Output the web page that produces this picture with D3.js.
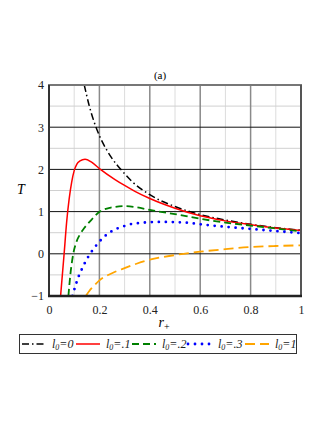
<!DOCTYPE html>
<html>
<head>
<meta charset="utf-8">
<script src="https://cdn.jsdelivr.net/npm/d3@7"></script>
<style>
  body { margin: 0; background: #fff; }
  svg, svg text { font-family: "Liberation Serif", "Times New Roman", "DejaVu Serif", serif; }
</style>
</head>
<body>
<div id="chart"></div>
<script>
// values
const r0 = [0.14, 0.16, 0.18, 0.2, 0.229, 0.25, 0.288, 0.328, 0.4, 0.5, 0.6, 0.7, 0.8, 0.9, 1.0];
const T0 = [4.0, 3.5, 3.11, 2.8, 2.46, 2.26, 1.98, 1.72, 1.4, 1.12, 0.93, 0.8, 0.7, 0.62, 0.56];
const r1 = [0.046, 0.06, 0.07, 0.08, 0.09, 0.1, 0.11, 0.123, 0.143, 0.169, 0.2, 0.262, 0.3, 0.341, 0.4, 0.5, 0.6, 0.7, 0.8, 0.9, 1.0];
const T1 = [-1, 0, 0.75, 1.3, 1.7, 1.97, 2.12, 2.2, 2.24, 2.17, 2.02, 1.76, 1.62, 1.48, 1.31, 1.08, 0.9, 0.78, 0.69, 0.61, 0.55];
const r2 = [0.077, 0.085, 0.097, 0.11, 0.125, 0.14, 0.169, 0.202, 0.242, 0.302, 0.35, 0.4, 0.5, 0.6, 0.7, 0.8, 0.9, 1.0];
const T2 = [-1, -0.48, 0.02, 0.3, 0.48, 0.61, 0.81, 1.0, 1.09, 1.13, 1.1, 1.04, 0.94, 0.83, 0.74, 0.67, 0.6, 0.53];
const r3 = [0.093, 0.107, 0.12, 0.134, 0.147, 0.16, 0.176, 0.196, 0.218, 0.245, 0.271, 0.3, 0.33, 0.36, 0.4, 0.45, 0.5, 0.56, 0.6, 0.7, 0.8, 0.9, 1.0];
const T3 = [-1, -0.72, -0.5, -0.32, -0.16, -0.03, 0.11, 0.26, 0.4, 0.52, 0.6, 0.66, 0.71, 0.73, 0.75, 0.755, 0.75, 0.73, 0.7, 0.64, 0.59, 0.54, 0.49];
const r4 = [0.146, 0.16, 0.18, 0.2, 0.25, 0.3, 0.35, 0.4, 0.5, 0.6, 0.7, 0.8, 0.9, 1.0];
const T4 = [-1, -0.88, -0.75, -0.63, -0.46, -0.34, -0.23, -0.14, -0.03, 0.05, 0.11, 0.16, 0.185, 0.2];
const labels = ['0', '.1', '.2', '.3', '1'];
const xTicks = [0, 0.2, 0.4, 0.6, 0.8, 1];
const yTicks = [-1, 0, 1, 2, 3, 4];

const width = 327, height = 423;
const margin = {top: 85, right: 26, bottom: 127, left: 49};
const serif = '"Liberation Serif", "Times New Roman", serif';

const svg = d3.select('#chart')
    .append('svg')
    .attr('width', width)
    .attr('height', height);

const x = d3.scaleLinear().domain([0, 1]).range([margin.left, width - margin.right]);
const y = d3.scaleLinear().domain([-1, 4]).range([height - margin.bottom, margin.top]);

// grid
const grid = svg.append('g');
grid.selectAll('.vminor')
    .data(d3.range(1, 10, 2).map(d => d / 10))
    .enter().append('line')
    .attr('x1', d => x(d)).attr('x2', d => x(d))
    .attr('y1', y(-1)).attr('y2', y(4))
    .attr('stroke', '#dcdcdc').attr('stroke-width', 1);
grid.selectAll('.hminor')
    .data(d3.range(-0.5, 4, 1))
    .enter().append('line')
    .attr('x1', x(0)).attr('x2', x(1))
    .attr('y1', d => y(d)).attr('y2', d => y(d))
    .attr('stroke', '#d0d0d0').attr('stroke-width', 1);
grid.selectAll('.vmajor')
    .data([0.2, 0.4, 0.6, 0.8])
    .enter().append('line')
    .attr('x1', d => x(d)).attr('x2', d => x(d))
    .attr('y1', y(-1)).attr('y2', y(4))
    .attr('stroke', '#8a8a8a').attr('stroke-width', 1.5);
grid.selectAll('.hmajor')
    .data([0, 1, 2, 3])
    .enter().append('line')
    .attr('x1', x(0)).attr('x2', x(1))
    .attr('y1', d => y(d)).attr('y2', d => y(d))
    .attr('stroke', '#111').attr('stroke-width', 1);

// curves
svg.append('clipPath').attr('id', 'clip')
    .append('rect')
    .attr('x', x(0)).attr('y', y(4))
    .attr('width', x(1) - x(0)).attr('height', y(-1) - y(4));

const series = [
    {r: r0, T: T0, color: '#000', dash: '7,3,1.5,3', w: 1.5},
    {r: r1, T: T1, color: '#ff0000', dash: null, w: 1.5},
    {r: r2, T: T2, color: '#008000', dash: '7,4', w: 1.8},
    {r: r3, T: T3, color: '#0000ff', dash: '0,7', w: 2.8},
    {r: r4, T: T4, color: '#ffa500', dash: '10,5', w: 1.8}
];

const line = d3.line()
    .x(d => x(d[0]))
    .y(d => y(d[1]))
    .curve(d3.curveMonotoneX);

const curves = svg.append('g').attr('clip-path', 'url(#clip)');
series.forEach(s => {
    curves.append('path')
        .datum(s.r.map((v, i) => [v, s.T[i]]))
        .attr('fill', 'none')
        .attr('stroke', s.color)
        .attr('stroke-width', s.w)
        .attr('stroke-dasharray', s.dash)
        .attr('stroke-linecap', s.dash === '0,7' ? 'round' : 'butt')
        .attr('d', line);
});

// frame
svg.append('line').attr('x1', x(0) - 1).attr('x2', x(1) + 1).attr('y1', y(4)).attr('y2', y(4))
    .attr('stroke', '#777').attr('stroke-width', 2);
svg.append('line').attr('x1', x(1)).attr('x2', x(1)).attr('y1', y(4)).attr('y2', y(-1))
    .attr('stroke', '#555').attr('stroke-width', 2);
svg.append('line').attr('x1', x(0)).attr('x2', x(0)).attr('y1', y(4)).attr('y2', y(-1))
    .attr('stroke', '#333').attr('stroke-width', 2);
svg.append('line').attr('x1', x(0) - 1).attr('x2', x(1) + 1).attr('y1', y(-1)).attr('y2', y(-1))
    .attr('stroke', '#222').attr('stroke-width', 2.5);

// axes labels
svg.append('g')
    .attr('transform', `translate(0,${y(-1)})`)
    .call(d3.axisBottom(x).tickValues(xTicks).tickSize(0).tickPadding(9)
        .tickFormat(d => d === 0 || d === 1 ? d3.format('d')(d) : d3.format('.1f')(d)))
    .call(g => g.select('.domain').remove())
    .selectAll('text')
    .style('font-family', serif)
    .style('font-size', '12px')
    .attr('fill', '#222');

svg.append('g')
    .attr('transform', `translate(${x(0)},0)`)
    .call(d3.axisLeft(y).tickValues(yTicks).tickSize(0).tickPadding(5)
        .tickFormat(d => d < 0 ? '\u2212' + Math.abs(d) : d))
    .call(g => g.select('.domain').remove())
    .selectAll('text')
    .style('font-family', serif)
    .style('font-size', '12px')
    .attr('fill', '#222');

svg.append('text')
    .attr('x', 160).attr('y', 79)
    .attr('text-anchor', 'middle')
    .style('font-family', serif)
    .style('font-size', '11px')
    .text('(a)');

svg.append('text')
    .attr('x', 21).attr('y', 194)
    .attr('text-anchor', 'middle')
    .style('font-family', serif)
    .style('font-size', '14px')
    .attr('font-style', 'italic')
    .text('T');

const xl = svg.append('text')
    .attr('x', 164).attr('y', 327)
    .attr('text-anchor', 'middle')
    .style('font-family', serif)
    .style('font-size', '14px')
    .attr('font-style', 'italic');
xl.append('tspan').text('r');
xl.append('tspan').style('font-size', '10px').attr('font-style', 'normal').attr('dy', 3).text('+');

// legend
const legend = svg.append('g');
legend.append('rect')
    .attr('x', 19.5).attr('y', 334.5)
    .attr('width', 277).attr('height', 19)
    .attr('fill', '#fff')
    .attr('stroke', '#333').attr('stroke-width', 1);

const sampleX = [22, 76, 132, 188, 245];
series.forEach((s, i) => {
    legend.append('line')
        .attr('x1', sampleX[i]).attr('x2', sampleX[i] + 24)
        .attr('y1', 344).attr('y2', 344)
        .attr('stroke', s.color)
        .attr('stroke-width', s.w)
        .attr('stroke-dasharray', s.dash)
        .attr('stroke-linecap', s.dash === '0,7' ? 'round' : 'butt');
    const t = legend.append('text')
        .attr('x', sampleX[i] + 30).attr('y', 348)
        .style('font-family', serif)
        .style('font-size', '12px')
        .attr('font-style', 'italic')
        .attr('fill', '#222');
    t.append('tspan').text('l');
    t.append('tspan').style('font-size', '8px').attr('dy', 2).text('0');
    t.append('tspan').attr('dy', -2).text('=' + labels[i]);
});
</script>
</body>
</html>
